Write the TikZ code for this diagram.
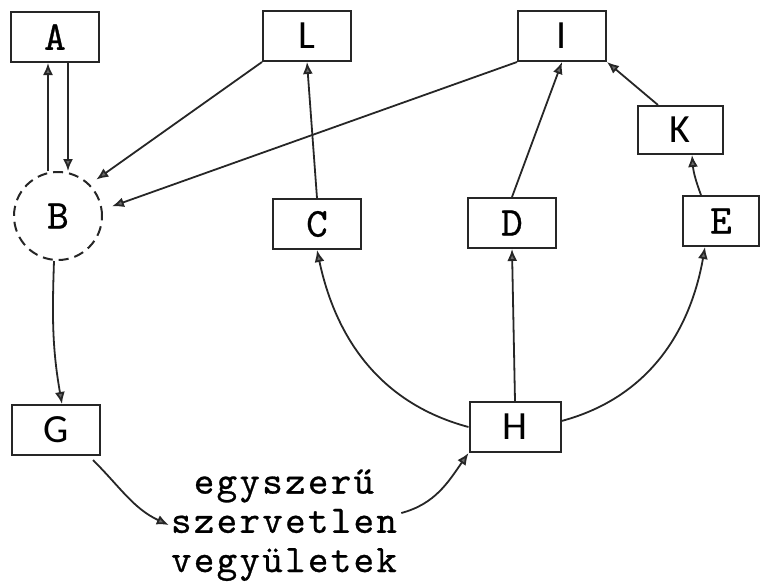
\documentclass[tikz,border=0pt]{standalone}
\usepackage{fontspec}
\newfontfamily\boxsans{Carlito}
\newfontfamily\typedfont{lmmono10-regular.otf}[FakeBold=0.7]
\usetikzlibrary{arrows.meta}
\definecolor{inkgray}{HTML}{262626}
\definecolor{tipgray}{HTML}{6A6A6A}
\tikzset{
  box/.style={draw=inkgray, line width=1pt, minimum width=44pt, minimum height=25pt, inner sep=0pt, font=\typedfont\fontsize{20.5}{20.5}\selectfont},
  sbox/.style={box, font=\boxsans\fontsize{20}{20}\selectfont},
  pool/.style={circle, draw=inkgray, line width=1pt, dash pattern=on 5pt off 3pt, minimum size=44pt, inner sep=0pt, font=\typedfont\fontsize{20.5}{20.5}\selectfont},
  note/.style={align=center, inner sep=0pt, font=\typedfont\fontsize{19.5}{19.6}\selectfont\addfontfeature{LetterSpace=6}},
  arrow/.style={-{Latex[length=6pt,width=5pt,fill=tipgray]}, line width=0.9pt, draw=inkgray}
}

\begin{document}
\begin{tikzpicture}[x=0.5pt,y=-0.5pt]
  \useasboundingbox (0,0) rectangle (761,586);
  \node[box] (A) at (55,37) {A};
  \node[sbox] (L) at (307,36) {L};
  \node[sbox] (I) at (562,36) {I};
  \node[sbox, minimum width=42.5pt, minimum height=24pt] (K) at (680,130) {K};
  \node[pool] (B) at (58,216) {B};
  \node[box] (C) at (317,224) {C};
  \node[box] (D) at (512,223) {D};
  \node[box, minimum width=38pt] (E) at (721,221) {E};
  \node[sbox] (G) at (56,430) {G};
  \node[sbox, minimum width=45.5pt] (H) at (515,427) {H};
  \node[note] (simple) at (284,525) {egyszerű\\szervetlen\\vegyületek};

  \draw[arrow] ([xshift=-5pt]B.north) -- ([xshift=-5pt]B.north |- A.south);
  \draw[arrow] ([xshift=5pt]B.north |- A.south) -- ([xshift=5pt]B.north);
  \draw[arrow, shorten >=4pt] (L.south west) -- (B.45);
  \draw[arrow, shorten >=5pt] (I.south west) -- (B.8);
  \draw[arrow] (C.north) -- (L.south);
  \draw[arrow] (D.north) -- (I.south);
  \draw[arrow] ([xshift=-11pt]K.north) -- (I.south east);
  \draw[arrow] ([xshift=-10pt]E.north) to[bend left=8] ([xshift=6pt]K.south);
  \draw[arrow] (H.north) -- (D.south);
  \draw[arrow] (H.west) to[out=165,in=-78] (C.south);
  \draw[arrow] ([yshift=3pt]H.east) to[out=15,in=-100] ([xshift=-8pt]E.south);
  \draw[arrow] ([xshift=-2pt]B.south) to[out=-92,in=100] ([xshift=3pt]G.north);
  \draw[arrow] ([xshift=-4pt,yshift=-2pt]G.south east) to[out=-45,in=155] ([xshift=-1pt]simple.west);
  \draw[arrow] ([xshift=2pt,yshift=6pt]simple.east) to[out=15,in=-125] (H.south west);
\end{tikzpicture}
\end{document}
